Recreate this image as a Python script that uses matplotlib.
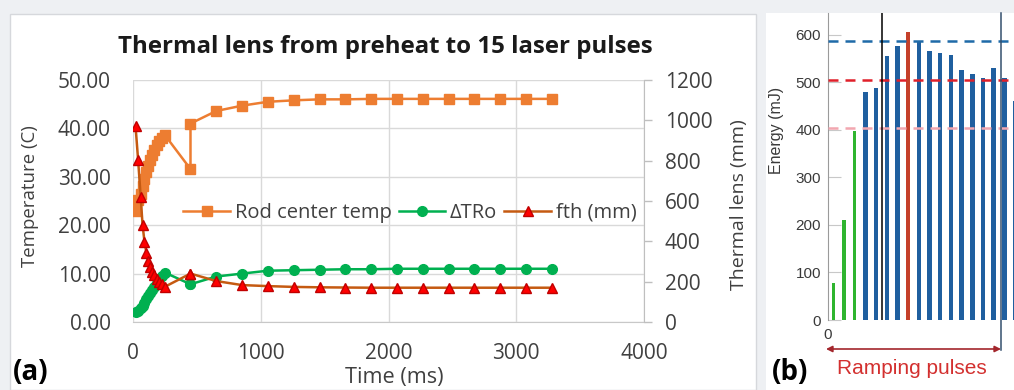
import matplotlib
matplotlib.use('Agg')
import matplotlib.pyplot as plt
from matplotlib.patches import Rectangle

W, H = 1014, 390

# ---- panel (a): thermal lens data ----
time_ms = [20, 40, 60, 75, 90, 105, 120, 135, 150, 165, 185, 205, 225, 250,
           450, 450, 652, 854, 1056, 1258, 1460, 1662, 1864, 2066, 2268,
           2470, 2672, 2874, 3076, 3278]
rod_temp = [23.0, 25.2, 26.5, 28.0, 29.5, 31.0, 32.3, 33.5, 34.6, 35.6, 36.5, 37.3, 38.0, 38.6,
            31.6, 41.0, 43.6, 44.7, 45.5, 45.8, 46.0, 46.0, 46.1, 46.1, 46.1,
            46.1, 46.1, 46.1, 46.1, 46.1]
delta_tro = [2.0, 2.3, 2.8, 3.4, 4.0, 4.7, 5.4, 6.0, 6.7, 7.3, 8.1, 8.8, 9.5, 10.2,
             7.8, 7.8, 9.4, 10.0, 10.6, 10.7, 10.8, 10.9, 10.9, 11.0, 11.0,
             11.0, 11.0, 11.0, 11.0, 11.0]
fth_mm = [970, 804, 622, 480, 398, 343, 302, 275, 250, 232, 215, 200, 188, 175,
          240, 240, 203, 183, 178, 174, 172, 171, 170, 170, 170,
          170, 170, 170, 170, 170]

# ---- panel (b): pulse energies ----
pulse_no = list(range(1, 19))
energy_mj = [78, 210, 397, 479, 488, 556, 576, 605, 588, 567, 562, 558,
             526, 518, 510, 530, 510, 461]
bar_colors = ['#2fb52f'] * 3 + ['#1f5f9f'] * 4 + ['#c5402a'] + ['#1f5f9f'] * 10
bar_widths = [0.3] * 3 + [0.42] * 15
ref_levels = [588, 504, 404]
ref_colors = ['#1f6aa8', '#e0202a', '#f2a7b0']


def px_rect(x0, y0, x1, y1):
    return [x0 / W, 1 - y1 / H, (x1 - x0) / W, (y1 - y0) / H]


def fx(x):
    return x / W


def fy(y):
    return 1 - y / H


fig = plt.figure(figsize=(W / 100, H / 100), dpi=100)
fig.patch.set_facecolor('#eef0f3')
fig.patches.append(Rectangle((fx(10), 0), fx(756) - fx(10), fy(14), transform=fig.transFigure,
                             facecolor='white', edgecolor='#d6d8dc', lw=1, zorder=-10))
fig.patches.append(Rectangle((fx(766), 0), fx(1014) - fx(766), fy(13), transform=fig.transFigure,
                             facecolor='white', edgecolor='none', zorder=-10))

# ================= panel (a) =================
fa = 'Open Sans'
ax = fig.add_axes(px_rect(133, 80, 644, 322))
ax.set_facecolor('none')
ax.set_xlim(0, 4000)
ax.set_ylim(0, 50)
ax.set_xticks(range(0, 4001, 1000))
ax.set_yticks(range(0, 51, 10))
ax.set_yticklabels([f'{v:.2f}' for v in range(0, 51, 10)])
ax.grid(True, color='#d9d9d9', lw=1)
ax.set_axisbelow(True)
for s in ax.spines.values():
    s.set_visible(False)
ax.spines['bottom'].set_visible(True)
ax.spines['bottom'].set_color('#c8c8c8')
ax.tick_params(length=0, labelsize=15, colors='#404040')
ax.tick_params(axis='y', pad=16)
ax.tick_params(axis='x', pad=15)
for lab in ax.get_xticklabels() + ax.get_yticklabels():
    lab.set_family(fa)

l1, = ax.plot(time_ms, rod_temp, color='#ED7D31', lw=1.8, marker='s', ms=7,
              label='Rod center temp', zorder=3)
l2, = ax.plot(time_ms, delta_tro, color='#00B050', lw=1.8, marker='o', ms=7,
              label='ΔTRo', zorder=3)

ax2 = ax.twinx()
ax2.set_ylim(0, 1200)
ax2.set_yticks(range(0, 1201, 200))
for s in ax2.spines.values():
    s.set_visible(False)
ax2.spines['right'].set_visible(True)
ax2.spines['right'].set_color('#bfbfbf')
ax2.tick_params(axis='y', length=6, width=1, color='#bfbfbf', labelsize=15,
                labelcolor='#404040', pad=9)
for lab in ax2.get_yticklabels():
    lab.set_family(fa)
l3, = ax2.plot(time_ms, fth_mm, color='#C55A11', lw=1.8, marker='^', ms=7.5,
               markerfacecolor='#FF0000', markeredgecolor='#C00000', label='fth (mm)')

leg = ax2.legend(handles=[l1, l2, l3], loc='center', ncol=3, frameon=False,
                 bbox_to_anchor=(fx(410), fy(213)), bbox_transform=fig.transFigure,
                 prop={'family': fa, 'size': 14.5}, handlelength=2.3, handletextpad=0.25,
                 columnspacing=0.35, borderpad=0)
for t in leg.get_texts():
    t.set_color('#404040')

fig.text(fx(385), fy(47), 'Thermal lens from preheat to 15 laser pulses', ha='center',
         va='center', family=fa, weight='bold', size=17.3, color='#1a1a1a')
fig.text(fx(30), fy(196), 'Temperature (C)', rotation=90, ha='center', va='center',
         family=fa, size=13.4, color='#404040')
fig.text(fx(739), fy(205), 'Thermal lens (mm)', rotation=90, ha='center', va='center',
         family=fa, size=14, color='#404040')
fig.text(fx(394), fy(378), 'Time (ms)', ha='center', va='center', family=fa, size=15.6,
         color='#404040')
fig.text(fx(31), fy(372), '(a)', ha='center', va='center', family=fa, weight='bold',
         size=20, color='black')

# ================= panel (b) =================
fb = 'Liberation Sans'
bx = fig.add_axes(px_rect(828, 13, 1014, 320))
bx.set_facecolor('none')
bx.set_xlim(0.5, 17.9)
bx.set_ylim(0, 646)
bx.bar(pulse_no, energy_mj, width=bar_widths, color=bar_colors, zorder=2)
for lvl, c in zip(ref_levels, ref_colors):
    bx.axhline(lvl, color=c, lw=1.8, dashes=(4, 2.8), zorder=3)
bx.axvline(5.52, color='black', lw=1.1, zorder=4)
bx.axvline(16.64, ymin=-0.098, ymax=1, color='#34506e', lw=1.1, zorder=4, clip_on=False)
for s in bx.spines.values():
    s.set_visible(False)
bx.spines['left'].set_visible(True)
bx.spines['left'].set_color('#9a9a9a')
bx.set_yticks(range(0, 601, 100))
bx.set_xticks([0.5])
bx.set_xticklabels(['0'])
bx.tick_params(axis='y', direction='in', length=9, color='#c8c8c8', labelsize=11,
               labelcolor='#3a3a3a', pad=5)
bx.tick_params(axis='x', length=0, labelsize=11, labelcolor='#3a3a3a', pad=6)
for lab in bx.get_xticklabels() + bx.get_yticklabels():
    lab.set_family(fb)
fig.text(fx(777), fy(130), 'Energy (mJ)', rotation=90, ha='center', va='center',
         family=fb, size=11.5, color='#3a3a3a')
bx.annotate('', xy=(fx(1001), fy(349)), xytext=(fx(826), fy(349)),
            xycoords='figure fraction', textcoords='figure fraction',
            arrowprops=dict(arrowstyle='<|-|>', color='#a3262c', lw=1.2,
                            mutation_scale=9, shrinkA=0, shrinkB=0))
fig.text(fx(912), fy(368), 'Ramping pulses', ha='center', va='center', family=fb,
         size=15, color='#d3302f')
fig.text(fx(790), fy(372), '(b)', ha='center', va='center', family=fa, weight='bold',
         size=20, color='black')

fig.savefig('out.png', dpi=100, facecolor=fig.get_facecolor())
